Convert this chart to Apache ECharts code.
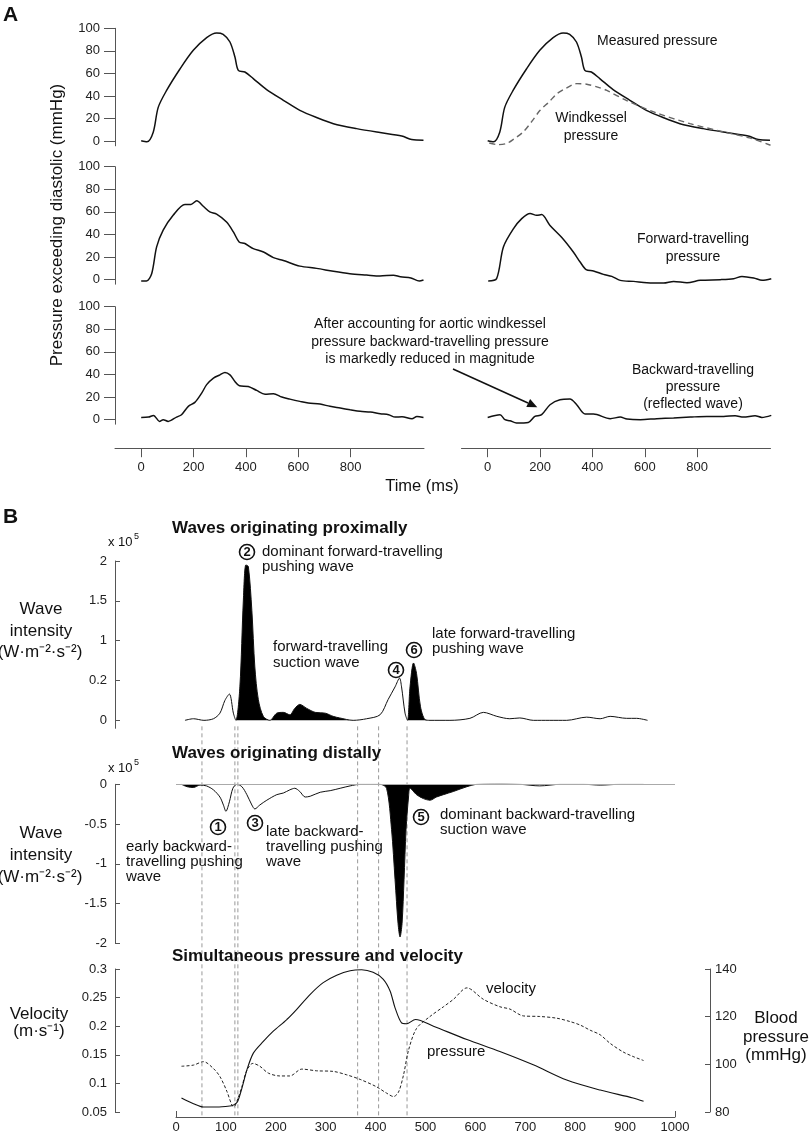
<!DOCTYPE html>
<html>
<head>
<meta charset="utf-8">
<script src="https://cdn.jsdelivr.net/npm/echarts@6/dist/echarts.min.js"></script>
<style>
  html, body { margin: 0; padding: 0; background: #fff; }
  #chart { width: 810px; height: 1135px; }
</style>
</head>
<body>
<div id="chart"></div>
<script>
const FONT = "'Liberation Sans', Arial, Helvetica, sans-serif"

// ---- Panel A: pressure separation (ms, mmHg above diastolic) ----
const timeTicksA = [0, 200, 400, 600, 800]
const pressTicksA = [0, 20, 40, 60, 80, 100]

const measuredT = [0, 22, 46, 65, 97, 148, 199, 250, 288, 313, 339, 358, 371, 396, 428, 479, 543, 606, 670, 734, 823, 912, 995, 1033, 1078]
const measuredP = [0.5, -0.5, 8, 30, 45, 64, 80.5, 91.8, 95.9, 94.7, 87.9, 74.6, 62.8, 61.3, 55.5, 45.7, 36.3, 27.4, 21, 15.6, 11.2, 7.7, 4.7, 1.5, 1]

const windkesselT = [6, 40, 72, 100, 136, 170, 200, 235, 264, 300, 340, 378, 420, 455, 531, 646, 773, 901, 1000, 1080]
const windkesselP = [-1.5, -3, -2, 2, 8.3, 18, 27.4, 35, 42, 47, 51, 50.5, 48, 45, 36, 25, 15.6, 8.3, 3, -3.5]

const forwardLT = [0, 20, 40, 59, 84, 122, 167, 190, 212, 237, 262, 288, 326, 352, 374, 396, 428, 467, 505, 543, 606, 670, 734, 797, 861, 912, 963, 990, 1030, 1062, 1078]
const forwardLP = [-1.2, -1.2, 5.3, 29, 43.8, 57, 66.6, 66.6, 69.8, 65, 60, 58, 51, 42.3, 33.4, 32, 27.5, 24.5, 19.5, 17, 12, 10, 7.4, 5.3, 4.1, 3.2, 4, 2.5, 1.5, -1.2, -0.3]

const forwardRT = [2, 34, 60, 98, 130, 162, 187, 206, 238, 283, 327, 353, 376, 404, 442, 474, 506, 557, 608, 672, 710, 761, 812, 888, 939, 971, 1016, 1048, 1083]
const forwardRP = [-1.2, 0.9, 29, 45, 54, 58.6, 57, 57.6, 48, 37.3, 24.5, 15.6, 8.9, 7.7, 4.7, 2.9, -0.6, -1.5, -2.7, -3, -1.5, -2.7, -0.6, 0, 0.9, 2.9, 1.5, -0.6, 0.9]

const backwardLT = [0, 28, 47, 70, 84, 103, 135, 154, 180, 205, 231, 250, 276, 301, 320, 339, 358, 375, 409, 441, 473, 505, 537, 568, 606, 638, 683, 721, 760, 798, 836, 875, 913, 945, 970, 996, 1034, 1053, 1078]
const backwardLP = [2, 2.3, 3.8, -1.5, 0, -1.5, 2.3, 4.4, 11.8, 15.3, 23.5, 31, 36.8, 39.7, 41.8, 39.7, 33.8, 30, 29.4, 25.9, 22.6, 22.9, 20, 18.2, 16.2, 14.7, 13.8, 11.8, 10.3, 8.8, 7.4, 6.8, 5.3, 4.4, 2.3, 2.6, 0.9, 2.9, 2]

const backwardRT = [0, 47, 66, 85, 110, 155, 180, 206, 238, 276, 314, 340, 372, 404, 468, 506, 532, 583, 646, 710, 774, 837, 901, 945, 977, 1021, 1047, 1083]
const backwardRP = [2, 4.4, 0, -0.9, -2.9, -2.4, 2.9, 4.4, 13.2, 17.6, 18.2, 13.2, 5, 5, 0.9, 2.3, 0.6, 0, 0.9, 1.5, 2.3, 2.9, 2.9, 3.5, 2.3, 3.5, 2, 3.8]

// ---- Panel B: wave intensity (x10^5), velocity, pressure ----
const timeTicksB = [0, 100, 200, 300, 400, 500, 600, 700, 800, 900, 1000]
const proxTickValues = [0, 0.5, 1, 1.5, 2]
const proxTickLabels = ['0', '0.2', '1', '1.5', '2']
const distTickValues = [0, -0.5, -1, -1.5, -2]
const velTicks = [0.05, 0.1, 0.15, 0.2, 0.25, 0.3]
const bpTicks = [80, 100, 120, 140]

const proxT = [18, 35, 56, 75, 88, 98, 107, 115, 120, 128, 135, 140, 145, 152, 158, 165, 175, 188, 202, 215, 228, 238, 248, 262, 279, 299, 315, 328, 355, 382, 409, 425, 439, 448, 452, 459, 464, 469, 476, 482, 490, 499, 509, 549, 589, 616, 643, 669, 689, 716, 749, 783, 823, 850, 870, 903, 923, 945]
const proxW = [0, 0.02, 0, 0.02, 0.09, 0.25, 0.33, 0.09, 0, 0.42, 1.51, 1.95, 1.93, 1.38, 0.67, 0.26, 0.05, 0, 0.09, 0.1, 0.07, 0.15, 0.2, 0.15, 0.1, 0.09, 0.05, 0.03, 0, 0.02, 0.07, 0.26, 0.42, 0.53, 0.42, 0.09, 0, 0.42, 0.72, 0.59, 0.17, 0.01, 0, 0, 0.025, 0.1, 0.05, 0.02, 0.03, 0, 0, 0, 0.04, 0.02, 0.05, 0.025, 0.025, 0]
const proxFilled = [[120, 188], [195, 345], [464, 509]]

const distT = [11, 22, 35, 48, 61, 75, 88, 95, 100, 107, 114, 122, 132, 142, 152, 158, 168, 182, 202, 215, 228, 238, 248, 259, 269, 289, 309, 329, 349, 369, 389, 409, 422, 432, 439, 445, 449, 453, 457, 461, 466, 469, 482, 496, 509, 522, 536, 556, 583, 603, 650, 690, 729, 770, 817, 850, 890, 937]
const distW = [0, -0.03, -0.04, -0.01, -0.02, -0.07, -0.16, -0.26, -0.34, -0.22, -0.05, 0, -0.03, -0.13, -0.26, -0.31, -0.26, -0.2, -0.13, -0.11, -0.07, -0.05, -0.09, -0.16, -0.15, -0.1, -0.08, -0.05, -0.02, 0, 0, 0, -0.05, -0.57, -1.2, -1.75, -1.92, -1.75, -1.2, -0.57, -0.16, -0.05, -0.13, -0.18, -0.2, -0.16, -0.13, -0.09, -0.03, 0, 0.01, 0, -0.02, 0, 0, -0.01, 0, 0]
const distFilled = [[11, 50], [409, 640]]

const velT = [11, 35, 55, 75, 88, 102, 112, 116, 123, 132, 142, 154, 168, 185, 208, 228, 252, 282, 315, 342, 369, 402, 422, 436, 446, 456, 466, 482, 509, 536, 556, 583, 616, 649, 669, 696, 729, 763, 790, 810, 830, 850, 870, 896, 916, 937]
const velV = [0.130, 0.132, 0.138, 0.126, 0.112, 0.086, 0.062, 0.059, 0.071, 0.094, 0.123, 0.135, 0.130, 0.118, 0.113, 0.113, 0.125, 0.122, 0.121, 0.115, 0.107, 0.094, 0.083, 0.077, 0.085, 0.115, 0.158, 0.196, 0.217, 0.234, 0.247, 0.267, 0.247, 0.234, 0.230, 0.218, 0.217, 0.214, 0.208, 0.202, 0.193, 0.185, 0.170, 0.155, 0.147, 0.140]

const bpT = [11, 35, 55, 82, 108, 114, 123, 132, 142, 155, 175, 195, 222, 242, 269, 295, 322, 349, 372, 395, 415, 429, 439, 452, 462, 480, 516, 583, 649, 716, 783, 850, 916, 937]
const bpV = [85.9, 83.5, 82.1, 82.1, 82.5, 82.8, 84.2, 89.9, 97.6, 104.7, 109.6, 113.9, 118.8, 123.1, 129.4, 134.3, 137.4, 139.3, 139.7, 138.6, 135.8, 130.8, 123.7, 117.4, 117, 118.8, 116, 110.4, 105.4, 99.8, 93.4, 89.2, 85.9, 84.5]

// times of the dashed reference lines (ms)
const eventTimes = [52, 118, 124, 364, 406, 463]

const zip = (ts, vs) => ts.map((t, i) => [t, vs[i]])
const onlyIn = (ts, vs, ranges) =>
  ts.map((t, i) => [t, ranges.some(([a, b]) => t >= a && t <= b) ? vs[i] : 0])

const chart = echarts.init(document.getElementById('chart'))

const labelStyle = { color: '#222', fontSize: 13, fontFamily: FONT, formatter: v => String(v) }
const axisLine = { show: true, onZero: false, lineStyle: { color: '#555', width: 1 } }

// panel A grids: 3 rows x 2 columns
const rowTopA = [28.3, 166.7, 306.7]
const colLeftA = [115, 461.5]
const gridsA = []
const xAxesA = []
const yAxesA = []
rowTopA.forEach((top, r) => {
  colLeftA.forEach((left, c) => {
    const i = r * 2 + c
    gridsA.push({ left, top, width: 309, height: 117.5, containLabel: false, outerBoundsMode: 'none' })
    xAxesA.push({
      gridIndex: i, type: 'value', min: -100, max: 1080, show: r === 2,
      position: 'bottom', offset: 24,
      axisLine,
      axisTick: { show: true, inside: false, length: 9, customValues: timeTicksA, lineStyle: { color: '#555' } },
      axisLabel: Object.assign({}, labelStyle, { margin: 13, customValues: timeTicksA }),
      splitLine: { show: false }
    })
    yAxesA.push({
      gridIndex: i, type: 'value', min: -4, max: 100, show: c === 0,
      axisLine,
      axisTick: { show: true, inside: false, length: 11, customValues: pressTicksA, lineStyle: { color: '#555' } },
      axisLabel: Object.assign({}, labelStyle, { margin: 15, customValues: pressTicksA }),
      splitLine: { show: false }
    })
  })
})

// panel B grids
const gridsB = [
  { left: 176, width: 499, top: 561, height: 167.3, containLabel: false, outerBoundsMode: 'none' },
  { left: 176, width: 499, top: 784.3, height: 159, containLabel: false, outerBoundsMode: 'none' },
  { left: 176, width: 499, top: 969, height: 143, containLabel: false, outerBoundsMode: 'none' }
]
const xAxesB = [0, 1, 2].map(k => ({
  gridIndex: 6 + k, type: 'value', min: 0, max: 1000, show: k === 2,
  position: 'bottom', offset: 5,
  axisLine,
  axisTick: { show: true, inside: true, length: 6, customValues: [0, 1000], lineStyle: { color: '#555' } },
  axisLabel: Object.assign({}, labelStyle, { margin: 4, customValues: timeTicksB }),
  splitLine: { show: false }
}))
const yB = (gridIndex, min, max, ticks, extra) => Object.assign({
  gridIndex, type: 'value', min, max, position: 'left', offset: 61,
  axisLine,
  axisTick: { show: true, inside: true, length: 5, customValues: ticks, lineStyle: { color: '#555' } },
  axisLabel: Object.assign({}, labelStyle, { margin: 8, customValues: ticks }),
  splitLine: { show: false }
}, extra)
const yAxesB = [
  yB(6, -0.1, 2, proxTickValues, {
    axisLabel: Object.assign({}, labelStyle, { margin: 8, customValues: proxTickValues,
      formatter: v => proxTickLabels[proxTickValues.indexOf(v)] })
  }),
  yB(7, -2, 0, distTickValues),
  yB(8, 0.05, 0.3, velTicks),
  yB(8, 80, 140, bpTicks, {
    position: 'right', offset: 35,
    axisLabel: Object.assign({}, labelStyle, { margin: 5, customValues: bpTicks })
  })
]

const line = (xi, yi, data, extra) => Object.assign({
  type: 'line', xAxisIndex: xi, yAxisIndex: yi, data, symbol: 'none', smooth: 0.3,
  silent: true, lineStyle: { color: '#111', width: 1.5 }, z: 3
}, extra)

const series = [
  line(0, 0, zip(measuredT, measuredP)),
  line(1, 1, zip(measuredT, measuredP)),
  line(1, 1, zip(windkesselT, windkesselP), { lineStyle: { color: '#666', width: 1.4, type: [6, 4] } }),
  line(2, 2, zip(forwardLT, forwardLP)),
  line(3, 3, zip(forwardRT, forwardRP)),
  line(4, 4, zip(backwardLT, backwardLP)),
  line(5, 5, zip(backwardRT, backwardRP)),
  // proximal waves: filled pushing waves + trace
  line(6, 6, onlyIn(proxT, proxW, proxFilled), { lineStyle: { width: 0 }, areaStyle: { color: '#000', opacity: 1 }, z: 2 }),
  line(6, 6, zip(proxT, proxW), { lineStyle: { color: '#111', width: 1 } }),
  // distal waves
  line(7, 7, onlyIn(distT, distW, distFilled), { lineStyle: { width: 0 }, areaStyle: { color: '#000', opacity: 1 }, z: 2 }),
  line(7, 7, zip(distT, distW), {
    lineStyle: { color: '#111', width: 1 },
    markLine: { silent: true, symbol: 'none', label: { show: false },
      lineStyle: { color: '#aaa', width: 1, type: 'solid' }, data: [{ yAxis: 0 }] }
  }),
  // velocity and pressure
  line(8, 8, zip(velT, velV), { lineStyle: { color: '#222', width: 1, type: [3, 2] } }),
  line(8, 9, zip(bpT, bpV), { lineStyle: { color: '#111', width: 1.1 } })
]

chart.setOption({
  animation: false,
  backgroundColor: '#fff',
  grid: gridsA.concat(gridsB),
  xAxis: xAxesA.concat(xAxesB),
  yAxis: yAxesA.concat(yAxesB),
  series
})

// annotations
const txt = (x, y, text, size, opts = {}) => ({
  type: 'text', x, y, silent: true, z: 100, rotation: opts.rotation || 0,
  style: {
    text, fill: '#111',
    font: (opts.bold ? 'bold ' : '') + size + 'px ' + FONT,
    align: opts.align || 'left', verticalAlign: 'middle'
  }
})
const badge = (x, y, n) => [
  { type: 'circle', silent: true, z: 100, shape: { cx: x, cy: y, r: 7.5 }, style: { fill: '#fff', stroke: '#111', lineWidth: 1.6 } },
  txt(x, y + 0.5, String(n), 13, { bold: true, align: 'center' })
]

const xPix = t => chart.convertToPixel({ xAxisIndex: 8 }, t)
const yTop = chart.convertToPixel({ yAxisIndex: 6 }, 0) + 6
const yBot = chart.convertToPixel({ yAxisIndex: 8 }, 0.05) + 5
const dashLines = eventTimes.map(t => ({
  type: 'line', silent: true, z: 1,
  shape: { x1: xPix(t), y1: yTop, x2: xPix(t), y2: yBot },
  style: { stroke: '#999', lineWidth: 1, lineDash: [4, 3] }
}))

const graphics = [
  ...dashLines,
  txt(3, 15, 'A', 21, { bold: true }),
  txt(57, 225, 'Pressure exceeding diastolic (mmHg)', 17, { align: 'center', rotation: Math.PI / 2 }),
  txt(422, 486, 'Time (ms)', 16.5, { align: 'center' }),
  txt(597, 41, 'Measured pressure', 14),
  txt(591, 118, 'Windkessel', 14, { align: 'center' }),
  txt(591, 136, 'pressure', 14, { align: 'center' }),
  txt(693, 239, 'Forward-travelling', 14, { align: 'center' }),
  txt(693, 257, 'pressure', 14, { align: 'center' }),
  txt(430, 324, 'After accounting for aortic windkessel', 14, { align: 'center' }),
  txt(430, 342, 'pressure backward-travelling pressure', 14, { align: 'center' }),
  txt(430, 359, 'is markedly reduced in magnitude', 14, { align: 'center' }),
  txt(693, 370, 'Backward-travelling', 14, { align: 'center' }),
  txt(693, 387, 'pressure', 14, { align: 'center' }),
  txt(693, 404, '(reflected wave)', 14, { align: 'center' }),
  { type: 'line', silent: true, z: 100, shape: { x1: 453, y1: 369, x2: 528, y2: 403 }, style: { stroke: '#111', lineWidth: 1.5 } },
  { type: 'polygon', silent: true, z: 100, shape: { points: [[537.3, 407.3], [526.3, 406.9], [530.1, 398.9]] }, style: { fill: '#111' } },

  txt(3, 517, 'B', 21, { bold: true }),
  txt(172, 528, 'Waves originating proximally', 17, { bold: true }),
  txt(172, 753, 'Waves originating distally', 17, { bold: true }),
  txt(172, 956, 'Simultaneous pressure and velocity', 17, { bold: true }),
  txt(108, 542, 'x 10', 13), txt(134, 537, '5', 9),
  txt(108, 768, 'x 10', 13), txt(134, 763, '5', 9),
  txt(41, 609, 'Wave', 17, { align: 'center' }),
  txt(41, 631, 'intensity', 17, { align: 'center' }),
  txt(40, 652, '(W·m⁻²·s⁻²)', 17, { align: 'center' }),
  txt(41, 833, 'Wave', 17, { align: 'center' }),
  txt(41, 855, 'intensity', 17, { align: 'center' }),
  txt(40, 877, '(W·m⁻²·s⁻²)', 17, { align: 'center' }),
  txt(39, 1014, 'Velocity', 17, { align: 'center' }),
  txt(39, 1031, '(m·s⁻¹)', 17, { align: 'center' }),
  txt(776, 1018, 'Blood', 17, { align: 'center' }),
  txt(776, 1037, 'pressure', 17, { align: 'center' }),
  txt(776, 1055, '(mmHg)', 17, { align: 'center' }),

  ...badge(247, 552, 2),
  txt(262, 552, 'dominant forward-travelling', 15),
  txt(262, 567, 'pushing wave', 15),
  txt(273, 647, 'forward-travelling', 15),
  txt(273, 663, 'suction wave', 15),
  ...badge(396, 670, 4),
  ...badge(414, 650, 6),
  txt(432, 634, 'late forward-travelling', 15),
  txt(432, 649, 'pushing wave', 15),

  ...badge(218, 827, 1),
  ...badge(255, 823, 3),
  txt(266, 832, 'late backward-', 15),
  txt(266, 847, 'travelling pushing', 15),
  txt(266, 862, 'wave', 15),
  txt(126, 847, 'early backward-', 15),
  txt(126, 862, 'travelling pushing', 15),
  txt(126, 877, 'wave', 15),
  ...badge(421, 817, 5),
  txt(440, 815, 'dominant backward-travelling', 15),
  txt(440, 830, 'suction wave', 15),

  txt(486, 989, 'velocity', 15),
  txt(427, 1052, 'pressure', 15)
]

chart.setOption({ graphic: graphics })
</script>
</body>
</html>
